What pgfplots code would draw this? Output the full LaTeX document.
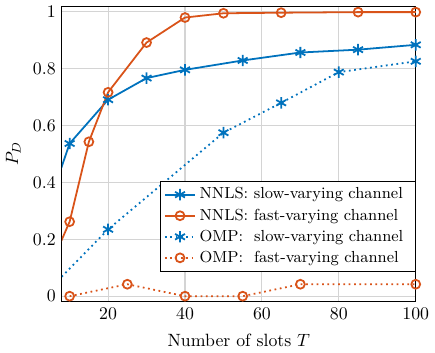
\documentclass[border=0pt]{standalone}
\usepackage{pgfplots}
\pgfplotsset{compat=1.18}
\definecolor{mblue}{rgb}{0,0.447,0.741}
\definecolor{morange}{rgb}{0.85,0.325,0.098}
\begin{document}
\begin{tikzpicture}
\begin{axis}[
  scale only axis,
  width=199pt,height=166pt,
  xmin=8,xmax=100,ymin=-0.018,ymax=1.02,
  xtick={20,40,60,80,100},
  ytick={0,0.2,0.4,0.6,0.8,1},
  yticklabels={0,0.2,0.4,0.6,0.8,1},
  grid=major,
  major grid style={black!17,line width=0.6pt},
  tick style={draw=none},
  axis line style={black,line width=0.6pt},
  xlabel={Number of slots $T$},
  ylabel={$P_D$},
  xlabel style={yshift=-1.5pt},
  legend style={at={(1,0.101)},anchor=south east,draw=black,fill=white,
    font=\small,row sep=0pt,inner xsep=2pt,inner ysep=1.5pt,line width=0.5pt},
  legend cell align=left,
]
  \addplot[mblue,line width=1pt,mark=asterisk,mark size=3.2pt,mark options={solid}]
    coordinates {(5,0.34) (10,0.537) (20,0.691) (30,0.767) (40,0.796) (55,0.829) (70,0.857) (85,0.867) (100,0.884)};
  \addlegendentry{NNLS: slow-varying channel\hspace*{3pt}}
  \addplot[morange,line width=1pt,mark=o,mark size=2.5pt,mark options={solid}]
    coordinates {(5,0.107) (10,0.262) (15,0.543) (20,0.717) (30,0.892) (40,0.98) (50,0.995) (65,0.997) (85,0.999) (100,0.999)};
  \addlegendentry{NNLS: fast-varying channel}
  \addplot[mblue,line width=1pt,dotted,mark=asterisk,mark size=3.2pt,mark options={solid}]
    coordinates {(5,0.028) (20,0.235) (50,0.575) (65,0.68) (80,0.788) (100,0.826)};
  \addlegendentry{OMP:\ \ slow-varying channel}
  \addplot[morange,line width=1pt,dotted,mark=o,mark size=2.5pt,mark options={solid}]
    coordinates {(10,0) (25,0.042) (40,0) (55,0) (70,0.042) (100,0.042)};
  \addlegendentry{OMP:\ \ fast-varying channel}
\end{axis}
\path ([xshift=9.5pt]current axis.east);
\end{tikzpicture}
\end{document}
